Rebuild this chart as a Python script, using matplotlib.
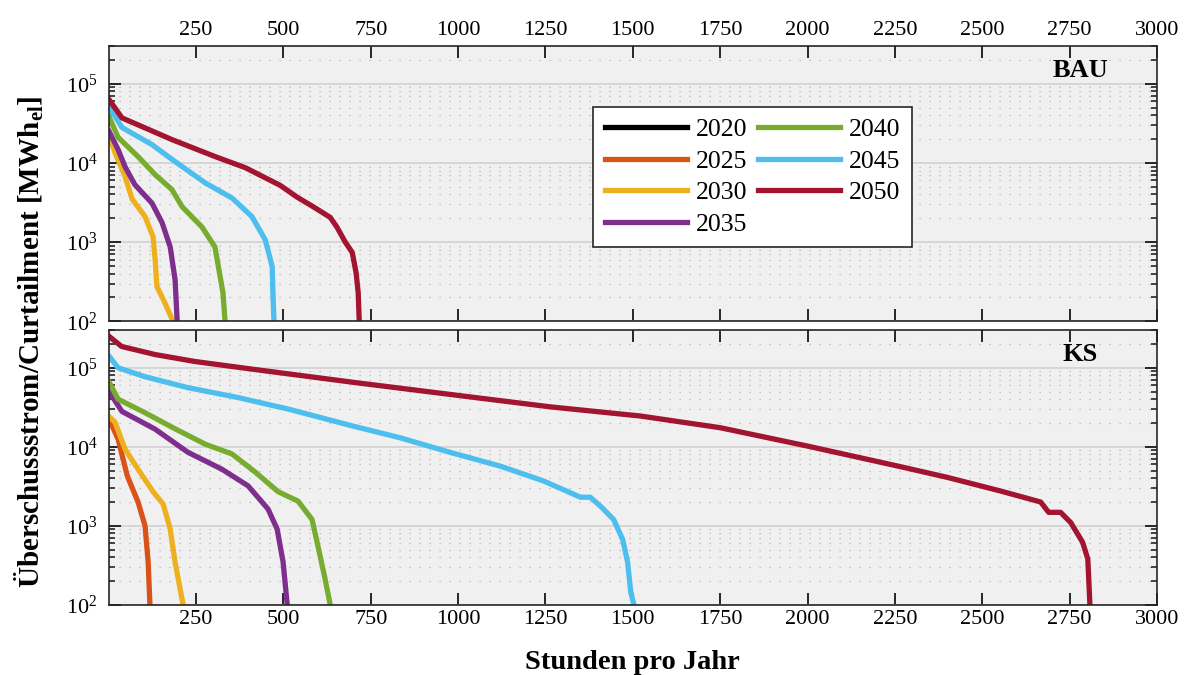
import numpy as np
import matplotlib
matplotlib.use("Agg")
import matplotlib.pyplot as plt
from matplotlib.ticker import LogLocator, NullFormatter

plt.rcParams["font.family"] = ["Liberation Serif", "DejaVu Serif"]
plt.rcParams["mathtext.fontset"] = "custom"
plt.rcParams["mathtext.rm"] = "Liberation Serif"
plt.rcParams["mathtext.bf"] = "Liberation Serif:bold"

jahre = ["2020", "2025", "2030", "2035", "2040", "2045", "2050"]
farben = ["#000000", "#D95319", "#EDB120", "#7E2F8E", "#77AC30", "#4DBEEE", "#A2142F"]

# BAU: geordnete Dauerlinien (Stunden, MWh_el)
bau_2020_h = []
bau_2020_v = []
bau_2025_h = []
bau_2025_v = []
bau_2030_h = [1, 18, 47, 67, 104, 127, 133, 138, 161, 184]
bau_2030_v = [2.3e4, 1.35e4, 6.7e3, 3.5e3, 2.1e3, 1.17e3, 600, 275, 170, 100]
bau_2035_h = [1, 27, 47, 75, 124, 153, 176, 190, 196]
bau_2035_v = [2.5e4, 1.47e4, 8.9e3, 5.3e3, 3.1e3, 1.75e3, 870, 335, 100]
bau_2040_h = [1, 27, 84, 133, 181, 210, 267, 304, 319, 327, 333]
bau_2040_v = [3.8e4, 2.1e4, 1.2e4, 7.1e3, 4.6e3, 2.8e3, 1.55e3, 870, 365, 230, 100]
bau_2045_h = [1, 38, 124, 182, 276, 353, 410, 448, 468, 470, 473]
bau_2045_v = [5.1e4, 2.8e4, 1.7e4, 1.1e4, 5.6e3, 3.6e3, 2.1e3, 1.07e3, 490, 230, 100]
bau_2050_h = [1, 38, 182, 305, 391, 491, 539, 585, 634, 653, 677, 697, 708, 714, 717]
bau_2050_v = [6.3e4, 3.7e4, 1.96e4, 1.2e4, 8.7e3, 5.2e3, 3.7e3, 2.8e3, 2.05e3, 1.55e3,
              1.0e3, 740, 410, 230, 100]

# KS
ks_2020_h = []
ks_2020_v = []
ks_2025_h = [1, 27, 53, 84, 104, 113, 118]
ks_2025_v = [2.25e4, 1.25e4, 4.3e3, 2.0e3, 1.0e3, 345, 100]
ks_2030_h = [1, 18, 47, 84, 127, 156, 176, 190, 213]
ks_2030_v = [2.4e4, 2.05e4, 9.3e3, 5.2e3, 2.7e3, 1.88e3, 910, 345, 100]
ks_2035_h = [1, 38, 133, 227, 324, 399, 456, 482, 499, 511]
ks_2035_v = [5.0e4, 2.8e4, 1.67e4, 8.5e3, 5.2e3, 3.2e3, 1.63e3, 910, 350, 100]
ks_2040_h = [1, 27, 104, 181, 276, 353, 419, 485, 542, 582, 599, 619, 634]
ks_2040_v = [6.6e4, 4.0e4, 2.7e4, 1.77e4, 1.08e4, 8.1e3, 4.8e3, 2.7e3, 2.05e3, 1.2e3,
             550, 215, 100]
ks_2045_h = [1, 27, 104, 227, 370, 514, 705, 834, 977, 1120, 1244, 1350, 1378, 1407,
             1445, 1471, 1485, 1494, 1503]
ks_2045_v = [1.4e5, 1.0e5, 7.7e4, 5.6e4, 4.2e4, 3.0e4, 1.8e4, 1.3e4, 8.5e3, 5.7e3,
             3.7e3, 2.3e3, 2.3e3, 1.78e3, 1.2e3, 670, 345, 145, 100]
ks_2050_h = [1, 37, 133, 247, 419, 705, 977, 1264, 1522, 1751, 2000, 2266, 2400, 2553,
             2667, 2690, 2724, 2753, 2787, 2802, 2805, 2808]
ks_2050_v = [2.5e5, 1.86e5, 1.47e5, 1.2e5, 9.5e4, 6.5e4, 4.6e4, 3.2e4, 2.45e4, 1.74e4,
             1.02e4, 5.6e3, 4.1e3, 2.75e3, 2.0e3, 1.48e3, 1.48e3, 1.1e3, 620, 380, 195, 100]

bau = [(bau_2020_h, bau_2020_v), (bau_2025_h, bau_2025_v), (bau_2030_h, bau_2030_v),
       (bau_2035_h, bau_2035_v), (bau_2040_h, bau_2040_v), (bau_2045_h, bau_2045_v),
       (bau_2050_h, bau_2050_v)]
ks = [(ks_2020_h, ks_2020_v), (ks_2025_h, ks_2025_v), (ks_2030_h, ks_2030_v),
      (ks_2035_h, ks_2035_v), (ks_2040_h, ks_2040_v), (ks_2045_h, ks_2045_v),
      (ks_2050_h, ks_2050_v)]

fig = plt.figure(figsize=(11.84, 6.75), dpi=100)
ax1 = fig.add_axes([0.0918, 0.524, 0.8854, 0.408])
ax2 = fig.add_axes([0.0918, 0.104, 0.8854, 0.407])


def panel(ax, daten, titel, labels_oben):
    for (h, v), jahr, farbe in zip(daten, jahre, farben):
        ax.plot(h, v, color=farbe, lw=3.8, label=jahr, solid_joinstyle="round")
    ax.set_yscale("log")
    ax.set_ylim(100, 3e5)
    ax.set_xlim(0, 3000)
    ax.set_facecolor("#f0f0f0")
    ax.set_xticks(np.arange(250, 3001, 250))
    ax.set_yticks([1e2, 1e3, 1e4, 1e5])
    ax.yaxis.set_minor_locator(LogLocator(base=10, subs=np.arange(2, 10)))
    ax.yaxis.set_minor_formatter(NullFormatter())
    ax.grid(True, which="major", axis="y", color="#d4d4d4", lw=1.3, ls="-")
    ax.grid(True, which="minor", axis="y", color="#b4b4b4", lw=0.9, ls=(0, (1, 7)))
    ax.set_axisbelow(True)
    ax.tick_params(which="both", direction="in", top=True, right=True,
                   labelsize=16, colors="#262626", labelcolor="black")
    ax.tick_params(which="major", length=8.5, width=1.4)
    ax.tick_params(which="minor", length=4.5, width=1.2)
    ax.tick_params(axis="y", pad=8)
    ax.tick_params(axis="x", labeltop=labels_oben, labelbottom=not labels_oben, pad=4)
    for s in ax.spines.values():
        s.set_color("#262626")
        s.set_linewidth(1.2)
    ax.text(0.927, 0.91, titel, transform=ax.transAxes, ha="center", va="center",
            fontsize=19, fontweight="bold")


panel(ax1, bau, "BAU", True)
panel(ax2, ks, "KS", False)

leg = ax1.legend(loc="upper left", bbox_to_anchor=(0.462, 0.779), ncol=2, fontsize=18.5,
                 frameon=True, fancybox=False, edgecolor="#262626", framealpha=1,
                 handlelength=3.2, handletextpad=0.35, columnspacing=0.4,
                 labelspacing=0.33, borderpad=0.45, borderaxespad=0)
leg.get_frame().set_linewidth(1.2)

ax2.set_xlabel("Stunden pro Jahr", fontsize=20.5, fontweight="bold", labelpad=15)
fig.text(0.025, 0.493, r"Überschussstrom/Curtailment [MWh$_{\mathbf{el}}$]", rotation=90,
         ha="center", va="center", fontsize=21, fontweight="bold")

fig.savefig("out.png", dpi=100)
